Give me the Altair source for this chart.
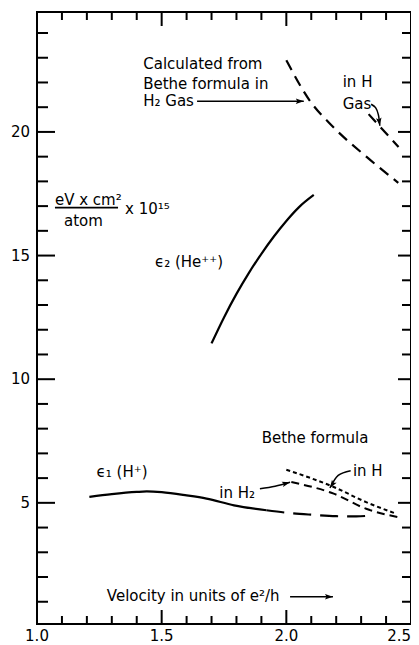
import altair as alt
import pandas as pd

FONT = "DejaVu Sans"

# ---------------- data ----------------
# epsilon_2 (He++) measured curve
eps2_x = [1.70, 1.75, 1.80, 1.85, 1.90, 1.95, 2.00, 2.05, 2.11]
eps2_y = [11.45, 12.50, 13.45, 14.30, 15.07, 15.77, 16.40, 16.95, 17.45]

# epsilon_1 (H+) measured curve (solid) and its extrapolation (long dashes)
eps1_x = [1.21, 1.30, 1.40, 1.44, 1.50, 1.60, 1.68, 1.79, 1.92]
eps1_y = [5.24, 5.35, 5.44, 5.46, 5.43, 5.30, 5.17, 4.90, 4.70]
eps1_ext_x = [1.92, 2.00, 2.10, 2.20, 2.28, 2.34]
eps1_ext_y = [4.70, 4.60, 4.52, 4.46, 4.45, 4.49]

# Bethe formula, He++ : in H2 gas and in H gas
bethe_h2gas_x = [2.00, 2.093, 2.188, 2.322, 2.449]
bethe_h2gas_y = [22.90, 21.28, 20.20, 18.99, 17.94]
bethe_hgas_x = [2.33, 2.45]
bethe_hgas_y = [20.72, 19.39]

# Bethe formula, H+ : in H2 and in H
bethe_h2_x = [2.02, 2.19, 2.32, 2.45]
bethe_h2_y = [5.84, 5.37, 4.76, 4.42]
bethe_h_x = [2.00, 2.19, 2.32, 2.44]
bethe_h_y = [6.34, 5.64, 5.03, 4.56]

# axis tick values and labels
x_label_values = [1.0, 1.5, 2.0]
x_label_text = ["1.0", "1.5", "2.0"]
x_last_label_value = [2.5]
x_last_label_text = ["2.5"]
y_label_values = [5, 10, 15, 20]
y_label_text = ["5", "10", "15", "20"]
x_major_ticks = [1.5, 2.0]
x_minor_ticks = [1.1, 1.2, 1.3, 1.4, 1.6, 1.7, 1.8, 1.9, 2.1, 2.2, 2.3, 2.4]
y_major_ticks = [5, 10, 15, 20]
y_minor_ticks = [1, 2, 3, 4, 6, 7, 8, 9, 11, 12, 13, 14, 16, 17, 18, 19, 21, 22, 23, 24]

# annotations (data coordinates)
ann_text = ["Calculated from", "Bethe formula in", "H\u2082 Gas", "in H", "Gas",
            "eV x cm\u00b2", "x 10\u00b9\u2075", "\u03f5\u2082 (He\u207a\u207a)", "Bethe formula",
            "\u03f5\u2081 (H\u207a)", "in H\u2082", "in H", "Velocity in units of e\u00b2/h"]
ann_x = [1.426, 1.426, 1.426, 2.226, 2.226, 1.072, 1.353, 1.473, 1.901, 1.239, 1.731, 2.267, 1.28]
ann_y = [22.76, 21.95, 21.24, 22.02, 21.12, 17.25, 16.88, 14.72, 7.61, 6.23, 5.38, 6.27, 1.22]
ann_center_text = ["atom"]
ann_center_x = [1.186]
ann_center_y = [16.39]
frac_x = [1.072]
frac_x2 = [1.325]
frac_y = [16.94]

# arrows: id, path points
arrow_id = ["a1", "a1", "a2", "a2", "a2", "a2", "a3", "a3", "a3", "a4", "a4", "a4", "a5", "a5"]
arrow_x = [1.642, 2.07, 2.340, 2.358, 2.369, 2.375, 1.894, 1.955, 2.015, 2.258, 2.208, 2.175, 2.015, 2.187]
arrow_y = [21.24, 21.24, 21.12, 20.98, 20.70, 20.25, 5.57, 5.67, 5.83, 6.30, 6.11, 5.60, 1.20, 1.20]
head_x = [2.07, 2.375, 2.015, 2.175, 2.187]
head_y = [21.24, 20.25, 5.83, 5.60, 1.20]
head_angle = [90, 172, 75, 213, 90]

# ---------------- chart ----------------
W, H = 374, 612
xs = alt.Scale(domain=[1.0, 2.5], nice=False, zero=False)
ys = alt.Scale(domain=[0.1, 24.85], nice=False, zero=False)


def X(field="x"):
    return alt.X(f"{field}:Q", scale=xs, axis=None)


def Y(field="y"):
    return alt.Y(f"{field}:Q", scale=ys, axis=None)


def curve(xv, yv, dash=None, width=2.2, interp="monotone"):
    df = pd.DataFrame({"x": xv, "y": yv})
    kw = dict(color="black", strokeWidth=width, interpolate=interp, clip=True)
    if dash:
        kw["strokeDash"] = dash
    return alt.Chart(df).mark_line(**kw).encode(x=X(), y=Y())


layers = []

# tick labels (drawn through the scales)
xl_df = pd.DataFrame({"x": x_label_values, "t": x_label_text})
layers.append(alt.Chart(xl_df).mark_text(align="center", baseline="middle", font=FONT,
                                         fontSize=15, color="black")
              .encode(x=X(), y=alt.value(H + 12), text="t:N"))
xl2_df = pd.DataFrame({"x": x_last_label_value, "t": x_last_label_text})
layers.append(alt.Chart(xl2_df).mark_text(align="right", baseline="middle", font=FONT,
                                          fontSize=15, color="black")
              .encode(x=X(), y=alt.value(H + 12), text="t:N"))
yl_df = pd.DataFrame({"y": y_label_values, "t": y_label_text})
layers.append(alt.Chart(yl_df).mark_text(align="right", baseline="middle", font=FONT,
                                         fontSize=15, color="black")
              .encode(y=Y(), x=alt.value(-7), text="t:N"))

# annotation text
txt_df = pd.DataFrame({"t": ann_text, "x": ann_x, "y": ann_y})
layers.append(alt.Chart(txt_df).mark_text(align="left", baseline="middle", font=FONT,
                                          fontSize=15, color="black")
              .encode(x=X(), y=Y(), text="t:N"))
ctr_df = pd.DataFrame({"t": ann_center_text, "x": ann_center_x, "y": ann_center_y})
layers.append(alt.Chart(ctr_df).mark_text(align="center", baseline="middle", font=FONT,
                                          fontSize=15, color="black")
              .encode(x=X(), y=Y(), text="t:N"))
frac_df = pd.DataFrame({"x": frac_x, "x2": frac_x2, "y": frac_y})
layers.append(alt.Chart(frac_df).mark_rule(color="black", strokeWidth=1.6)
              .encode(x=X(), x2="x2:Q", y=Y()))

# curves
layers.append(curve(eps2_x, eps2_y))
layers.append(curve(eps1_x, eps1_y))
layers.append(curve(eps1_ext_x, eps1_ext_y, dash=[18, 9]))
layers.append(curve(bethe_h2gas_x, bethe_h2gas_y, dash=[11, 7], width=2.2))
layers.append(curve(bethe_hgas_x, bethe_hgas_y, dash=[11, 7], width=2.2))
layers.append(curve(bethe_h2_x, bethe_h2_y, dash=[8, 5], width=2))
layers.append(curve(bethe_h_x, bethe_h_y, dash=[4, 3], width=2))

# arrows
arr_df = pd.DataFrame({"id": arrow_id, "x": arrow_x, "y": arrow_y,
                       "o": list(range(len(arrow_id)))})
layers.append(alt.Chart(arr_df).mark_line(color="black", strokeWidth=1.5, interpolate="cardinal")
              .encode(x=X(), y=Y(), detail="id:N", order="o:Q"))
head_df = pd.DataFrame({"x": head_x, "y": head_y, "a": head_angle})
layers.append(alt.Chart(head_df).mark_point(shape="M0,0L-0.7,2L0,1.6L0.7,2Z", filled=True,
                                            size=64, color="black", opacity=1, strokeWidth=0)
              .encode(x=X(), y=Y(), angle=alt.Angle("a:Q", scale=None)))


# inward ticks on all four sides
def yticks(vals, x0, x1):
    return alt.Chart(pd.DataFrame({"v": vals})).mark_rule(color="black", strokeWidth=2).encode(
        y=Y("v"), x=alt.value(x0), x2=alt.value(x1))


def xticks(vals, y0, y1):
    return alt.Chart(pd.DataFrame({"v": vals})).mark_rule(color="black", strokeWidth=2).encode(
        x=X("v"), y=alt.value(y0), y2=alt.value(y1))


layers += [
    yticks(y_minor_ticks, 0, 11), yticks(y_major_ticks, 0, 18),
    yticks(y_minor_ticks, W - 9, W), yticks(y_major_ticks, W - 13, W),
    xticks(x_minor_ticks, 0, 8), xticks(x_major_ticks, 0, 14),
    xticks(x_minor_ticks, H - 8, H), xticks(x_major_ticks, H - 14, H),
]

chart = (alt.layer(*layers)
         .properties(width=W, height=H,
                     padding={"left": 29, "top": 4, "right": 0, "bottom": 21},
                     autosize=alt.AutoSizeParams(type="none"),
                     background="white")
         .configure_view(stroke="black", strokeWidth=2))

chart.save("out.html", embed_options={"renderer": "svg", "actions": False})
